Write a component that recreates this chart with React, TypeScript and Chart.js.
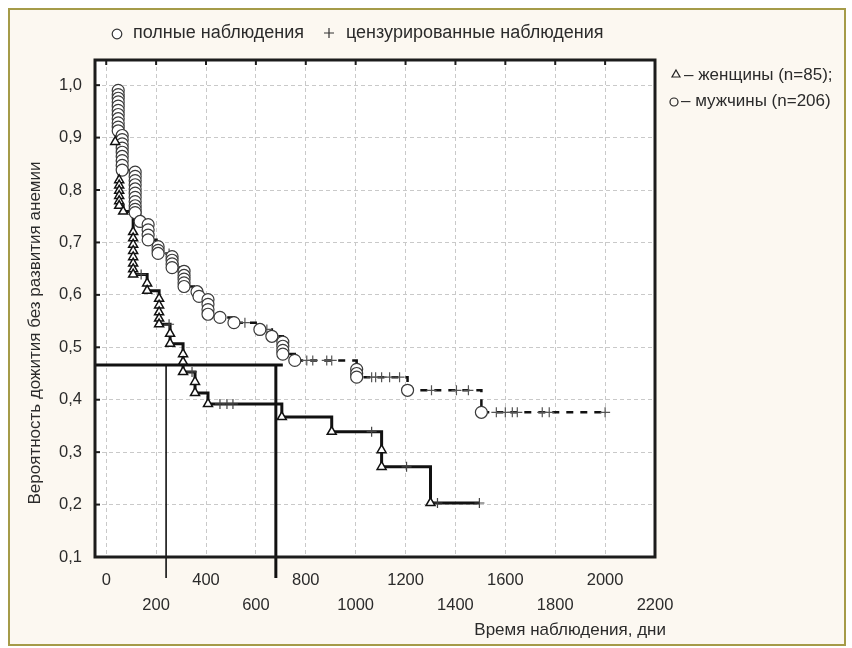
import React, { useEffect, useRef } from 'react';
import { Chart, registerables } from 'chart.js';

Chart.register(...registerables);

// ---- axis ticks ----
const xTicks = [0, 200, 400, 600, 800, 1000, 1200, 1400, 1600, 1800, 2000, 2200];
const yTicks = [0.1, 0.2, 0.3, 0.4, 0.5, 0.6, 0.7, 0.8, 0.9, 1.0];

// ---- men (n=206): complete observations (circles), grouped by day ----
const menEventDays = [48, 64, 116, 136, 168, 208, 264, 312, 364, 372, 408, 456, 512, 616, 664, 708, 756, 1004, 1208, 1504];
const menEventSurv = [
  [0.990, 0.982, 0.975, 0.968, 0.960, 0.952, 0.944, 0.936, 0.928, 0.920, 0.913],
  [0.904, 0.896, 0.888, 0.880, 0.872, 0.864, 0.856, 0.847, 0.838],
  [0.834, 0.826, 0.818, 0.810, 0.802, 0.794, 0.786, 0.778, 0.770, 0.763, 0.757],
  [0.740],
  [0.734, 0.724, 0.714, 0.705],
  [0.692, 0.685, 0.679],
  [0.673, 0.666, 0.659, 0.652],
  [0.645, 0.637, 0.630, 0.623, 0.616],
  [0.606],
  [0.597],
  [0.591, 0.582, 0.572, 0.563],
  [0.557],
  [0.547],
  [0.534],
  [0.521],
  [0.510, 0.502, 0.494, 0.487],
  [0.475],
  [0.458, 0.450, 0.443],
  [0.418],
  [0.376],
];
// men censored observations (+)
const menCensDays = [252, 288, 556, 644, 804, 828, 884, 904, 1064, 1080, 1104, 1136, 1176, 1304, 1404, 1452, 1564, 1600, 1628, 1648, 1748, 1776, 2000];
const menCensSurv = [0.679, 0.652, 0.547, 0.534, 0.475, 0.475, 0.475, 0.475, 0.443, 0.443, 0.443, 0.443, 0.443, 0.418, 0.418, 0.418, 0.376, 0.376, 0.376, 0.376, 0.376, 0.376, 0.376];

// ---- women (n=85): complete observations (triangles), grouped by day ----
const womenEventDays = [36, 52, 68, 108, 164, 212, 256, 308, 356, 408, 704, 904, 1104, 1300];
const womenEventSurv = [
  [0.892],
  [0.819, 0.809, 0.799, 0.789, 0.779, 0.770],
  [0.759],
  [0.720, 0.708, 0.696, 0.684, 0.672, 0.660, 0.649, 0.639],
  [0.622, 0.608],
  [0.593, 0.580, 0.567, 0.555, 0.544],
  [0.526, 0.507],
  [0.487, 0.472, 0.453],
  [0.434, 0.413],
  [0.392],
  [0.367],
  [0.339],
  [0.304, 0.272],
  [0.203],
];
// women censored observations (+)
const womenCensDays = [140, 252, 344, 456, 484, 508, 1064, 1204, 1328, 1496];
const womenCensSurv = [0.639, 0.544, 0.453, 0.392, 0.392, 0.392, 0.339, 0.272, 0.203, 0.203];

// ---- median reference lines ----
const refLevel = 0.466;
const refHorizEndDay = 708;
const refThinDay = 240;
const refThickDay = 680;

// ---- texts ----
const xTitle = 'Время наблюдения, дни';
const yTitle = 'Вероятность дожития без развития анемии';
const legendComplete = 'полные наблюдения';
const legendCensored = 'цензурированные наблюдения';
const legendWomen = '– женщины (n=85);';
const legendMen = '– мужчины (n=206)';

type P = { x: number; y: number };

function eventPoints(days: number[], survs: number[][]): P[] {
  const out: P[] = [];
  days.forEach((d, i) => survs[i].forEach((v) => out.push({ x: d, y: v })));
  return out;
}
function censPoints(days: number[], survs: number[]): P[] {
  return days.map((d, i) => ({ x: d, y: survs[i] }));
}
function curve(ev: P[], ce: P[]): P[] {
  const all = ev.map((p, i) => ({ ...p, k: 0, i })).concat(ce.map((p, i) => ({ ...p, k: 1, i })));
  all.sort((a, b) => a.x - b.x || a.k - b.k || a.i - b.i);
  return all.map((p) => ({ x: p.x, y: p.y }));
}

const FONT = '"Liberation Sans", Arial, sans-serif';
const TEXT = '#2b2b2b';

const decorPlugin = {
  id: 'decor',
  beforeDraw(chart: any) {
    const { ctx, chartArea: ca, width, height } = chart;
    ctx.save();
    ctx.fillStyle = '#ffffff';
    ctx.fillRect(0, 0, width, height);
    ctx.fillStyle = '#fcf8f1';
    ctx.fillRect(9, 9, 836, 636);
    ctx.strokeStyle = '#a59b48';
    ctx.lineWidth = 2;
    ctx.strokeRect(9, 9, 836, 636);
    ctx.fillStyle = '#ffffff';
    ctx.fillRect(ca.left, ca.top, ca.right - ca.left, ca.bottom - ca.top);
    ctx.restore();
  },
  afterDatasetsDraw(chart: any) {
    const { ctx, chartArea: ca, scales } = chart;
    const xs = scales.x;
    const ys = scales.y;
    ctx.save();
    // median reference lines
    ctx.strokeStyle = '#111';
    ctx.lineCap = 'butt';
    const yRef = ys.getPixelForValue(refLevel);
    ctx.lineWidth = 3;
    ctx.beginPath();
    ctx.moveTo(ca.left, yRef);
    ctx.lineTo(xs.getPixelForValue(refHorizEndDay), yRef);
    ctx.stroke();
    ctx.lineWidth = 1.6;
    ctx.beginPath();
    ctx.moveTo(xs.getPixelForValue(refThinDay), yRef);
    ctx.lineTo(xs.getPixelForValue(refThinDay), ca.bottom + 21);
    ctx.stroke();
    ctx.lineWidth = 3;
    ctx.beginPath();
    ctx.moveTo(xs.getPixelForValue(refThickDay), yRef);
    ctx.lineTo(xs.getPixelForValue(refThickDay), ca.bottom + 21);
    ctx.stroke();

    // plot frame
    ctx.lineWidth = 3;
    ctx.strokeStyle = '#1c1c1c';
    ctx.strokeRect(ca.left, ca.top, ca.right - ca.left, ca.bottom - ca.top);
    // inner tick marks
    ctx.lineWidth = 2;
    yTicks.forEach((v) => {
      const y = ys.getPixelForValue(v);
      ctx.beginPath();
      ctx.moveTo(ca.left, y);
      ctx.lineTo(ca.left + 5, y);
      ctx.stroke();
    });
    xTicks.forEach((v) => {
      const x = xs.getPixelForValue(v);
      ctx.beginPath();
      ctx.moveTo(x, ca.top);
      ctx.lineTo(x, ca.top + 5);
      ctx.stroke();
    });

    // axis titles
    ctx.fillStyle = TEXT;
    ctx.font = `17px ${FONT}`;
    ctx.textBaseline = 'middle';
    ctx.textAlign = 'right';
    ctx.fillText(xTitle, 666, 630);
    ctx.save();
    ctx.translate(35, 333);
    ctx.rotate(-Math.PI / 2);
    ctx.textAlign = 'center';
    ctx.fillText(yTitle, 0, 0);
    ctx.restore();

    // top legend
    ctx.textAlign = 'left';
    ctx.font = `18px ${FONT}`;
    ctx.strokeStyle = '#333';
    ctx.lineWidth = 1.2;
    ctx.fillStyle = '#fff';
    ctx.beginPath();
    ctx.arc(117, 34, 4.8, 0, Math.PI * 2);
    ctx.fill();
    ctx.stroke();
    ctx.fillStyle = TEXT;
    ctx.fillText(legendComplete, 133, 33);
    ctx.beginPath();
    ctx.moveTo(324, 33);
    ctx.lineTo(334, 33);
    ctx.moveTo(329, 28);
    ctx.lineTo(329, 38);
    ctx.stroke();
    ctx.fillText(legendCensored, 346, 33);

    // right legend
    ctx.font = `17px ${FONT}`;
    ctx.lineWidth = 1.2;
    ctx.strokeStyle = '#222';
    ctx.beginPath();
    ctx.moveTo(676, 70);
    ctx.lineTo(680, 77);
    ctx.lineTo(672, 77);
    ctx.closePath();
    ctx.stroke();
    ctx.fillText(legendWomen, 684, 75);
    ctx.beginPath();
    ctx.arc(674, 102, 4, 0, Math.PI * 2);
    ctx.stroke();
    ctx.fillText(legendMen, 681, 101);
    ctx.restore();
  },
};

export default function App() {
  const ref = useRef<HTMLCanvasElement | null>(null);
  useEffect(() => {
    if (!ref.current) return;
    const menEv = eventPoints(menEventDays, menEventSurv);
    const menCe = censPoints(menCensDays, menCensSurv);
    const womenEv = eventPoints(womenEventDays, womenEventSurv);
    const womenCe = censPoints(womenCensDays, womenCensSurv);
    const chart = new Chart(ref.current, {
      type: 'line',
      data: {
        datasets: [
          {
            label: 'женщины',
            data: womenEv,
            showLine: false,
            pointStyle: 'triangle',
            pointRadius: 5.2,
            pointBackgroundColor: '#ffffff',
            pointBorderColor: '#111',
            pointBorderWidth: 1.5,
            order: 0,
          },
          {
            label: 'женщины цензур.',
            data: womenCe,
            showLine: false,
            pointStyle: 'cross',
            pointRadius: 5,
            pointBorderColor: '#444',
            pointBorderWidth: 1.2,
            order: 1,
          },
          {
            label: 'мужчины',
            data: menEv,
            showLine: false,
            pointStyle: 'circle',
            pointRadius: 6,
            pointBackgroundColor: '#ffffff',
            pointBorderColor: '#3a3a3a',
            pointBorderWidth: 1.2,
            order: 2,
          },
          {
            label: 'мужчины цензур.',
            data: menCe,
            showLine: false,
            pointStyle: 'cross',
            pointRadius: 5,
            pointBorderColor: '#555',
            pointBorderWidth: 1.2,
            order: 3,
          },
          {
            label: 'женщины кривая',
            data: curve(womenEv, womenCe),
            stepped: 'before',
            borderColor: '#111',
            borderWidth: 3,
            pointRadius: 0,
            fill: false,
            order: 4,
          },
          {
            label: 'мужчины кривая',
            data: curve(menEv, menCe),
            stepped: 'before',
            borderColor: '#111',
            borderWidth: 2.5,
            borderDash: [7, 7],
            pointRadius: 0,
            fill: false,
            order: 5,
          },
        ],
      },
      options: {
        animation: false,
        responsive: false,
        devicePixelRatio: 1,
        events: [],
        layout: { padding: { left: 0, top: 60, right: 197, bottom: 0 } },
        plugins: { legend: { display: false }, tooltip: { enabled: false }, title: { display: false } },
        scales: {
          x: {
            type: 'linear',
            min: -45,
            max: 2200,
            afterFit: (s: any) => { s.height = 91; },
            afterBuildTicks: (s: any) => { s.ticks = xTicks.map((v) => ({ value: v })); },
            grid: { color: '#c9c9c9', lineWidth: 1, drawTicks: false },
            border: { display: false, dash: [4, 3] },
            ticks: {
              autoSkip: false,
              maxRotation: 0,
              padding: 11,
              color: TEXT,
              font: { family: FONT, size: 16.5, lineHeight: 1.5 },
              callback: (v: any, i: number) => (i % 2 === 0 ? String(xTicks[i]) : ['', String(xTicks[i])]),
            },
          },
          y: {
            type: 'linear',
            min: 0.1,
            max: 1.048,
            afterFit: (s: any) => { s.width = 95; },
            afterBuildTicks: (s: any) => { s.ticks = yTicks.map((v) => ({ value: v })); },
            grid: { color: '#c9c9c9', lineWidth: 1, drawTicks: false },
            border: { display: false, dash: [4, 3] },
            ticks: {
              padding: 13,
              color: TEXT,
              font: { family: FONT, size: 16.5 },
              callback: (v: any) => Number(v).toFixed(1).replace('.', ','),
            },
          },
        },
      },
      plugins: [decorPlugin],
    } as any);
    return () => chart.destroy();
  }, []);
  return (
    <div style={{ position: 'fixed', left: 0, top: 0, width: 852, height: 648 }}>
      <canvas ref={ref} width={852} height={648} style={{ display: 'block' }} />
    </div>
  );
}
